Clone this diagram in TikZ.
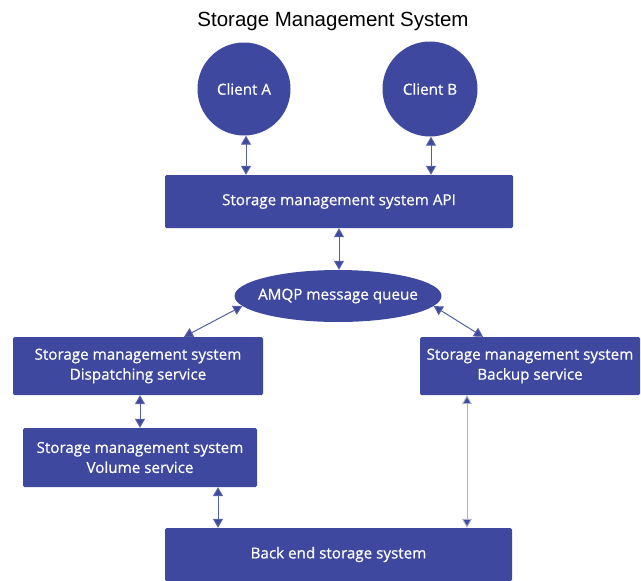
\documentclass[tikz,border=0pt]{standalone}
\usepackage{fontspec}
\setmainfont{Liberation Sans}
\newfontfamily\boxfont[FakeBold=0.6]{Open Sans}
\usetikzlibrary{arrows.meta,shapes.geometric}
\definecolor{boxblue}{RGB}{62,72,158}
\definecolor{linecol}{RGB}{85,95,165}
\definecolor{graycol}{RGB}{175,178,200}
\begin{document}
\begin{tikzpicture}[x=1pt,y=-1pt,
  box/.style={draw=none, fill=boxblue, rounded corners=1.5pt, text=white,
    font=\boxfont\fontsize{15.2}{20}\selectfont, align=center, inner sep=0pt},
  conn/.style={draw=linecol, line width=1pt,
    {Triangle[width=10pt,length=9pt,fill=boxblue]}-{Triangle[width=10pt,length=9pt,fill=boxblue]}},
]
\useasboundingbox (0,0) rectangle (641,581);
\node[font=\fontsize{20.5}{24}\selectfont] (title) at (333,21) {Storage Management System};
\node[box, circle, minimum size=93pt] (clientA) at (244,89) {Client A};
\node[box, circle, minimum size=95pt] (clientB) at (430,89) {Client B};
\node[box, minimum width=348pt, minimum height=53pt] (api) at (339,201.5) {Storage management system API};
\node[box, ellipse, minimum width=207pt, minimum height=52pt] (amqp) at (338,296) {\makebox[0pt]{AMQP message queue}};
\node[box, minimum width=250pt, minimum height=58pt] (disp) at (138,366) {Storage management system\\Dispatching service};
\node[box, minimum width=234pt, minimum height=59pt] (vol) at (140,457.5) {Storage management system\\Volume service};
\node[box, minimum width=220pt, minimum height=58pt] (backup) at (530,366) {Storage management system\\Backup service};
\node[box, minimum width=347pt, minimum height=53pt] (backend) at (338.5,554.5) {Back end storage system};

\draw[conn] ([xshift=2pt]clientA.south) -- ([xshift=2pt]clientA.south |- api.north);
\draw[conn] ([xshift=1pt]clientB.south) -- ([xshift=1pt]clientB.south |- api.north);
\draw[conn] (api.south) -- (api.south |- amqp.north);
\draw[conn] (amqp.186) -- ([xshift=46pt]disp.north);
\draw[conn] (amqp.-6) -- ([xshift=-47pt]backup.north);
\draw[conn] (vol.north |- disp.south) -- (vol.north);
\draw[conn] ([xshift=78pt]vol.south) -- ([xshift=78pt]vol.south |- backend.north);
\draw[conn, draw=graycol] ([xshift=-63pt]backup.south) -- ([xshift=-63pt]backup.south |- backend.north);
\end{tikzpicture}
\end{document}
